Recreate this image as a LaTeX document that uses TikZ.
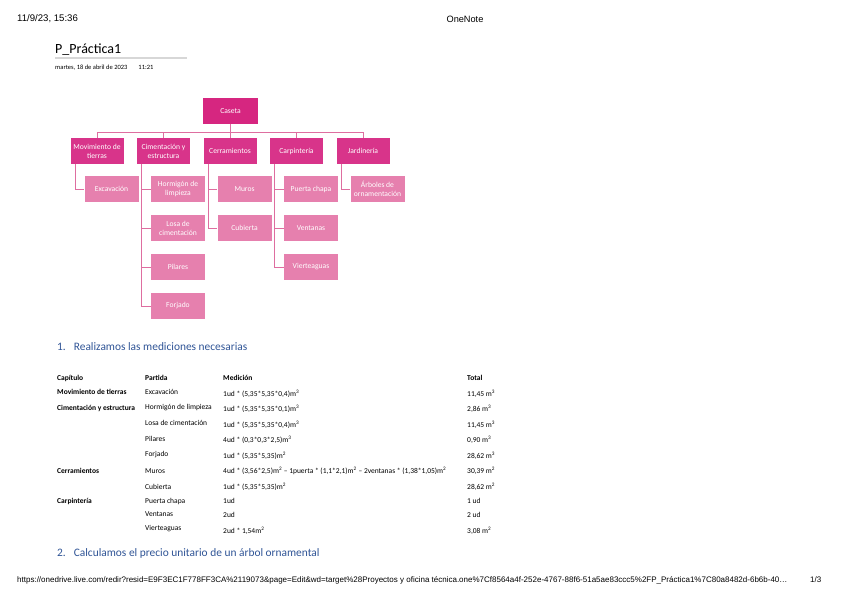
\documentclass[tikz,border=0pt]{standalone}
\usepackage{fontspec}
\setmainfont{Carlito}
\newfontfamily\arialfont{Liberation Sans}
\usetikzlibrary{positioning}
\definecolor{rootpink}{RGB}{214, 38, 128}
\definecolor{catpink}{RGB}{216, 52, 138}
\definecolor{itempink}{RGB}{230, 128, 174}
\definecolor{linkpink}{RGB}{222, 110, 160}
\definecolor{headblue}{RGB}{47, 84, 150}
\definecolor{rulegray}{RGB}{215, 215, 215}

\tikzset{
  box/.style={minimum width=53pt, minimum height=26pt, inner sep=0pt, align=center,
    text=white, font=\fontsize{7.6}{9}\selectfont},
  rootbox/.style={box, fill=rootpink, minimum width=55pt},
  catbox/.style={box, fill=catpink},
  itembox/.style={box, fill=itempink, minimum width=54pt},
  link/.style={draw=linkpink, line width=0.8pt},
  cell/.style={anchor=west, inner sep=0pt, font=\fontsize{7.5}{8}\selectfont},
  headcell/.style={cell, font=\fontsize{7.5}{8}\selectfont\bfseries}
}

\begin{document}
\begin{tikzpicture}[x=1pt, y=-1pt]
    \useasboundingbox[fill=white] (0,0) rectangle (848,599);

    % cabecera de la pagina
    \node[anchor=west, inner sep=0pt, font=\arialfont\fontsize{9.6}{11}\selectfont] (fecha) at (17,19) {11/9/23, 15:36};
    \node[inner sep=0pt, font=\arialfont\fontsize{9.2}{11}\selectfont] (app) at (465,19) {OneNote};

    % titulo
    \node[anchor=base west, inner sep=0pt, font=\fontsize{14}{16}\selectfont] (titulo) at (55,54) {P\_Práctica1};
    \draw[rulegray, line width=1.2pt] (55,58) -- (187,58);
    \node[anchor=west, inner sep=0pt, font=\fontsize{6.5}{7}\selectfont] (dia) at (55,68) {martes, 18 de abril de 2023\hspace{11pt}11:21};

    % arbol de la caseta
    \node[rootbox] (caseta) at (230.5,111) {Caseta};

    \node[catbox] (mov) at (97,151) {Movimiento de\\tierras};
    \node[catbox] (cim) at (163.5,151) {Cimentación y\\estructura};
    \node[catbox] (cer) at (230,151) {Cerramientos};
    \node[catbox] (car) at (296.5,151) {Carpintería};
    \node[catbox] (jar) at (363,151) {Jardinería};

    \foreach \c in {mov,cim,cer,car,jar}
        \draw[link] (caseta.south) -- ++(0,8) -| (\c.north);

    % partidas
    \node[itembox] (exc) at (111.5,189) {Excavación};
    \node[itembox] (horm) at (178,189) {Hormigón de\\limpieza};
    \node[itembox] (losa) at (178,228) {Losa de\\cimentación};
    \node[itembox] (pil) at (178,267) {Pilares};
    \node[itembox] (forj) at (178,306) {Forjado};
    \node[itembox] (mur) at (244.5,189) {Muros};
    \node[itembox] (cub) at (244.5,228) {Cubierta};
    \node[itembox] (pta) at (311,189) {Puerta chapa};
    \node[itembox] (ven) at (311,228) {Ventanas};
    \node[itembox] (vie) at (311,267) {Vierteaguas};
    \node[itembox] (arb) at (377.5,189) {Árboles de\\ornamentación};

    \draw[link] ([xshift=5pt]mov.south west) |- (exc.west);
    \foreach \p in {horm,losa,pil,forj}
        \draw[link] ([xshift=5pt]cim.south west) |- (\p.west);
    \foreach \p in {mur,cub}
        \draw[link] ([xshift=5pt]cer.south west) |- (\p.west);
    \foreach \p in {pta,ven,vie}
        \draw[link] ([xshift=5pt]car.south west) |- (\p.west);
    \draw[link] ([xshift=5pt]jar.south west) |- (arb.west);

    % apartado 1
    \node[anchor=west, inner sep=0pt, text=headblue, font=\fontsize{11.4}{13}\selectfont] (ap1) at (57,347)
        {1.\hspace{8pt}Realizamos las mediciones necesarias};

    % tabla de mediciones
    \node[headcell] (hcap) at (57,378) {Capítulo};
    \node[headcell] (hpar) at (145,378) {Partida};
    \node[headcell] (hmed) at (223,378) {Medición};
    \node[headcell] (htot) at (467,378) {Total};

    \node[headcell] (c1) at (57,392) {Movimiento de tierras};
    \node[headcell] (c2) at (57,408) {Cimentación y estructura};
    \node[headcell] (c3) at (57,471) {Cerramientos};
    \node[headcell] (c4) at (57,501) {Carpintería};

    \node[cell] (p1) at (145,392) {Excavación};
    \node[cell] (p2) at (145,408) {Hormigón de limpieza};
    \node[cell] (p3) at (145,423) {Losa de cimentación};
    \node[cell] (p4) at (145,439) {Pilares};
    \node[cell] (p5) at (145,455) {Forjado};
    \node[cell] (p6) at (145,471) {Muros};
    \node[cell] (p7) at (145,487) {Cubierta};
    \node[cell] (p8) at (145,501) {Puerta chapa};
    \node[cell] (p9) at (145,514) {Ventanas};
    \node[cell] (p10) at (145,529) {Vierteaguas};

    \node[cell] (m1) at (223,394) {1ud * (5,35*5,35*0,4)m\textsuperscript{3}};
    \node[cell] (m2) at (223,409) {1ud * (5,35*5,35*0,1)m\textsuperscript{3}};
    \node[cell] (m3) at (223,425) {1ud * (5,35*5,35*0,4)m\textsuperscript{3}};
    \node[cell] (m4) at (223,440) {4ud * (0,3*0,3*2,5)m\textsuperscript{3}};
    \node[cell] (m5) at (223,456) {1ud * (5,35*5,35)m\textsuperscript{2}};
    \node[cell] (m6) at (223,471) {4ud * (3,56*2,5)m\textsuperscript{2} -- 1puerta * (1,1*2,1)m\textsuperscript{2} -- 2ventanas * (1,38*1,05)m\textsuperscript{2}};
    \node[cell] (m7) at (223,487) {1ud * (5,35*5,35)m\textsuperscript{2}};
    \node[cell] (m8) at (223,501) {1ud};
    \node[cell] (m9) at (223,515) {2ud};
    \node[cell] (m10) at (223,531) {2ud * 1,54m\textsuperscript{2}};

    \node[cell] (t1) at (467,394) {11,45 m\textsuperscript{3}};
    \node[cell] (t2) at (467,409) {2,86 m\textsuperscript{3}};
    \node[cell] (t3) at (467,425) {11,45 m\textsuperscript{3}};
    \node[cell] (t4) at (467,440) {0,90 m\textsuperscript{3}};
    \node[cell] (t5) at (467,456) {28,62 m\textsuperscript{3}};
    \node[cell] (t6) at (467,471) {30,39 m\textsuperscript{2}};
    \node[cell] (t7) at (467,487) {28,62 m\textsuperscript{2}};
    \node[cell] (t8) at (467,501) {1 ud};
    \node[cell] (t9) at (467,515) {2 ud};
    \node[cell] (t10) at (467,531) {3,08 m\textsuperscript{2}};

    % apartado 2
    \node[anchor=west, inner sep=0pt, text=headblue, font=\fontsize{11.4}{13}\selectfont] (ap2) at (57,553)
        {2.\hspace{8pt}Calculamos el precio unitario de un árbol ornamental};

    % pie de pagina
    \node[anchor=west, inner sep=0pt, font=\arialfont\fontsize{8}{9}\selectfont] (url) at (17,580)
        {https://onedrive.live.com/redir?resid=E9F3EC1F778FF3CA\%2119073\&page=Edit\&wd=target\%28Proyectos y oficina técnica.one\%7Cf8564a4f-252e-4767-88f6-51a5ae83ccc5\%2FP\_Práctica1\%7C80a8482d-6b6b-40\dots};
    \node[anchor=west, inner sep=0pt, font=\arialfont\fontsize{8}{9}\selectfont] (pag) at (810,580) {1/3};
\end{tikzpicture}
\end{document}
